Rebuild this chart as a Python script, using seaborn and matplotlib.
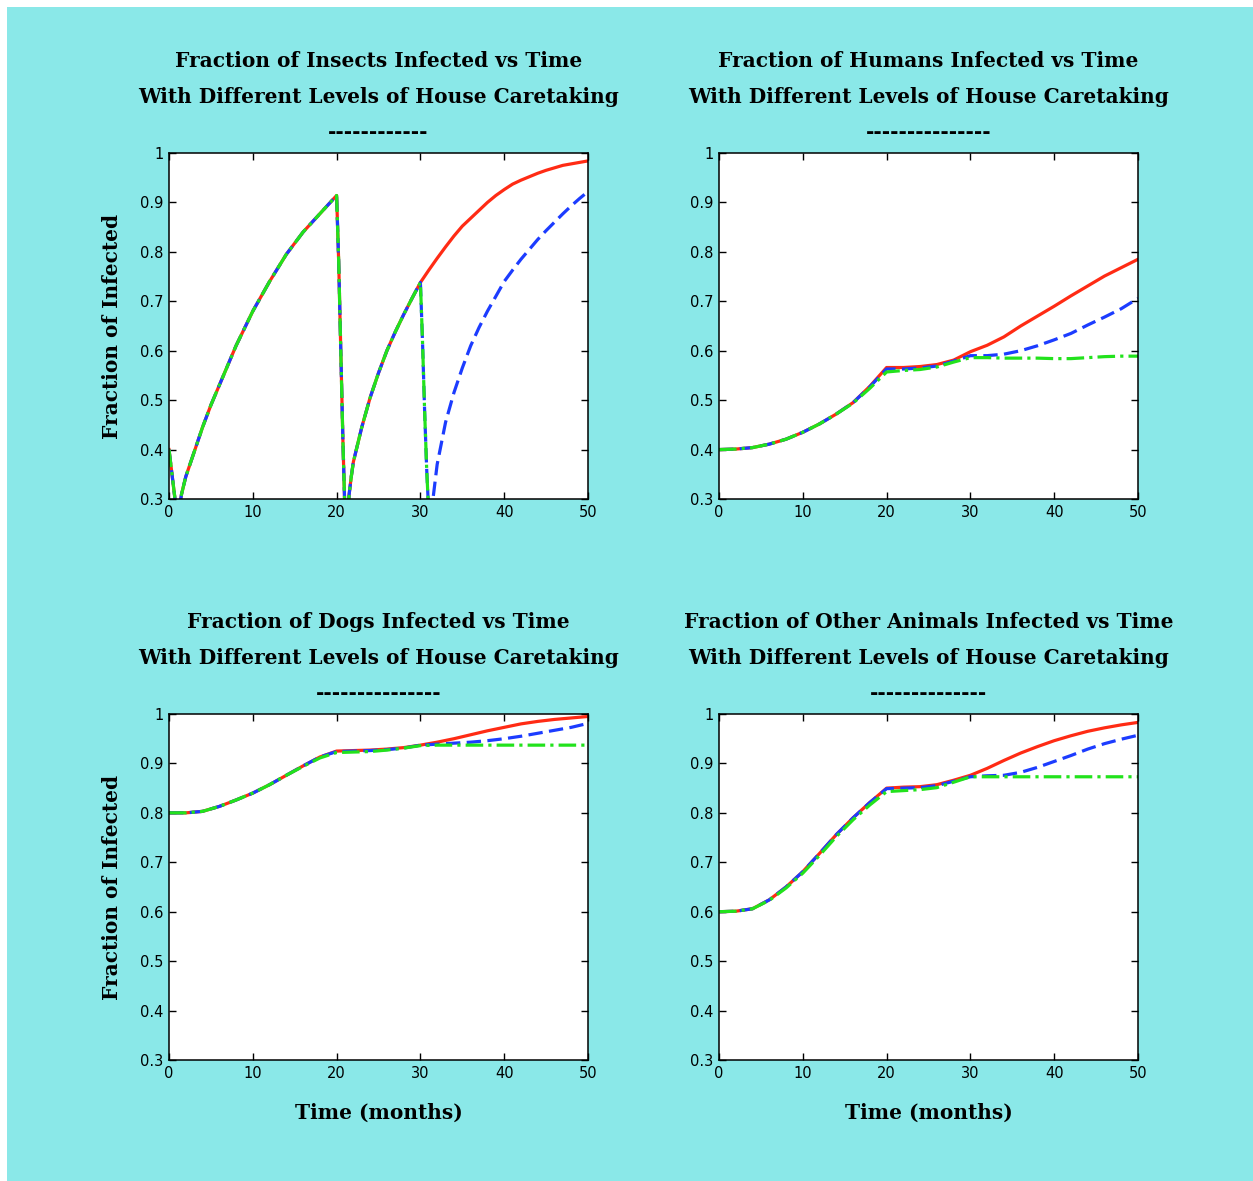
import matplotlib
matplotlib.use("Agg")
import matplotlib.pyplot as plt
from matplotlib.patches import Rectangle
import seaborn as sns

# ---- data (time in months, fraction infected) ----

# insects: all three levels share the curve up to month 30
insect_time_common = [0, 0.5, 1, 1.5, 2, 3, 4, 5, 6, 8, 10, 12, 14, 16, 18, 20,
                      20.25, 20.5, 20.75, 21, 21.25, 21.5, 21.75, 22, 23, 24, 25, 26, 27, 28, 29, 30]
insect_common = [0.40, 0.33, 0.26, 0.31, 0.345, 0.395, 0.445, 0.49, 0.53, 0.61, 0.68, 0.74,
                 0.795, 0.84, 0.877, 0.914, 0.78, 0.60, 0.42, 0.27, 0.25, 0.31, 0.345, 0.375,
                 0.445, 0.505, 0.555, 0.60, 0.638, 0.673, 0.706, 0.738]
insect_red_tail_time = [31, 32, 33, 34, 35, 36, 37, 38, 39, 40, 41, 42, 43, 44, 45, 46, 47, 48, 49, 50]
insect_red_tail = [0.763, 0.787, 0.81, 0.832, 0.852, 0.868, 0.884, 0.90, 0.914, 0.926,
                   0.937, 0.945, 0.952, 0.959, 0.965, 0.970, 0.975, 0.978, 0.981, 0.984]
insect_blue_tail_time = [30.25, 30.5, 30.75, 31, 31.25, 31.5, 32, 33, 34, 35, 36, 37, 38, 39,
                         40, 41, 42, 43, 44, 45, 46, 47, 48, 49, 50]
insect_blue_tail = [0.62, 0.48, 0.36, 0.27, 0.25, 0.30, 0.37, 0.455, 0.515, 0.565, 0.61, 0.647,
                    0.68, 0.71, 0.74, 0.763, 0.785, 0.805, 0.825, 0.843, 0.86, 0.877, 0.893,
                    0.908, 0.922]
insect_green_tail_time = [30.25, 30.5, 30.75, 31, 32, 40, 50]
insect_green_tail = [0.62, 0.48, 0.36, 0.27, 0.22, 0.15, 0.12]

# humans, dogs, other animals: sampled every 2 months
months = [0, 2, 4, 6, 8, 10, 12, 14, 16, 18, 20, 22, 24, 26, 28, 30, 32, 34, 36, 38, 40, 42, 44, 46, 48, 50]

human_red = [0.400, 0.401, 0.404, 0.411, 0.421, 0.435, 0.452, 0.472, 0.495, 0.528, 0.566, 0.566,
             0.568, 0.572, 0.581, 0.598, 0.611, 0.628, 0.650, 0.670, 0.690, 0.711, 0.731,
             0.751, 0.768, 0.785]
human_blue = [0.400, 0.401, 0.404, 0.411, 0.421, 0.435, 0.452, 0.472, 0.495, 0.527, 0.563, 0.563,
              0.565, 0.569, 0.579, 0.590, 0.590, 0.593, 0.600, 0.610, 0.622, 0.635, 0.652,
              0.668, 0.685, 0.706]
human_green = [0.400, 0.401, 0.404, 0.411, 0.421, 0.435, 0.452, 0.472, 0.494, 0.524, 0.557, 0.560,
               0.562, 0.567, 0.577, 0.586, 0.586, 0.585, 0.585, 0.585, 0.584, 0.584, 0.586,
               0.588, 0.589, 0.589]

dog_red = [0.800, 0.800, 0.803, 0.813, 0.826, 0.840, 0.857, 0.876, 0.895, 0.913, 0.925, 0.926,
           0.927, 0.929, 0.932, 0.937, 0.943, 0.950, 0.958, 0.966, 0.973, 0.980, 0.985,
           0.989, 0.992, 0.995]
dog_blue = [0.800, 0.800, 0.803, 0.813, 0.826, 0.840, 0.857, 0.876, 0.895, 0.913, 0.924, 0.925,
            0.926, 0.928, 0.931, 0.937, 0.939, 0.941, 0.943, 0.946, 0.950, 0.955, 0.961,
            0.967, 0.973, 0.981]
dog_green = [0.800, 0.800, 0.803, 0.813, 0.826, 0.840, 0.857, 0.876, 0.894, 0.911, 0.922, 0.923,
             0.924, 0.927, 0.931, 0.936, 0.937, 0.937, 0.937, 0.937, 0.937, 0.937, 0.937,
             0.937, 0.937, 0.937]

other_red = [0.600, 0.601, 0.606, 0.624, 0.650, 0.681, 0.718, 0.756, 0.790, 0.821, 0.850, 0.852,
             0.853, 0.857, 0.866, 0.876, 0.890, 0.906, 0.921, 0.934, 0.946, 0.956, 0.965,
             0.972, 0.978, 0.983]
other_blue = [0.600, 0.601, 0.606, 0.624, 0.650, 0.681, 0.718, 0.756, 0.790, 0.821, 0.849, 0.850,
              0.851, 0.855, 0.864, 0.873, 0.875, 0.876, 0.882, 0.892, 0.904, 0.916, 0.929,
              0.940, 0.949, 0.957]
other_green = [0.600, 0.601, 0.606, 0.623, 0.648, 0.678, 0.714, 0.752, 0.786, 0.816, 0.843, 0.845,
               0.847, 0.851, 0.862, 0.873, 0.873, 0.873, 0.873, 0.873, 0.873, 0.873, 0.873,
               0.873, 0.873, 0.873]

titles = ["Fraction of Insects Infected vs Time",
          "Fraction of Humans Infected vs Time",
          "Fraction of Dogs Infected vs Time",
          "Fraction of Other Animals Infected vs Time"]
subtitle = "With Different Levels of House Caretaking"
dash_lines = ["-" * 12, "-" * 15, "-" * 15, "-" * 14]
x_ticks = [0, 10, 20, 30, 40, 50]
y_ticks = [0.3, 0.4, 0.5, 0.6, 0.7, 0.8, 0.9, 1.0]
y_tick_labels = ["0.3", "0.4", "0.5", "0.6", "0.7", "0.8", "0.9", "1"]

# ---- styling ----
BG = "#8ae8e8"
RED = "#ff2b14"
BLUE = "#1c3cff"
GREEN = "#22e21c"
LW = 2.3
serif = ["DejaVu Serif"]
FS = 14.5

panels = [
    [(insect_time_common + insect_red_tail_time, insect_common + insect_red_tail),
     (insect_time_common + insect_blue_tail_time, insect_common + insect_blue_tail),
     (insect_time_common + insect_green_tail_time, insect_common + insect_green_tail)],
    [(months, human_red), (months, human_blue), (months, human_green)],
    [(months, dog_red), (months, dog_blue), (months, dog_green)],
    [(months, other_red), (months, other_blue), (months, other_green)],
]
styles = [(RED, "-"), (BLUE, (0, (4.5, 2.0))), (GREEN, (0, (5.5, 1.6, 1.0, 1.6)))]

W, H = 1253, 1181
fig = plt.figure(figsize=(W / 100, H / 100), dpi=100, facecolor="white")
fig.patches.append(Rectangle((7 / W, 0), 1 - 7 / W, 1 - 7 / H,
                             transform=fig.transFigure, facecolor=BG,
                             edgecolor="none", zorder=-10))

boxes = [(169, 153), (719, 153), (169, 714), (719, 714)]
aw, ah = 419, 346

for i, (x0, y0) in enumerate(boxes):
    ax = fig.add_axes([x0 / W, 1 - (y0 + ah) / H, aw / W, ah / H])
    ax.set_facecolor("white")
    for (t, v), (col, ls) in zip(panels[i], styles):
        sns.lineplot(x=t, y=v, ax=ax, color=col, linestyle=ls, linewidth=LW,
                     sort=False, estimator=None)
    ax.set_xlim(0, 50)
    ax.set_ylim(0.3, 1.0)
    ax.set_xticks(x_ticks)
    ax.set_xticklabels([str(x) for x in x_ticks])
    ax.set_yticks(y_ticks)
    ax.set_yticklabels(y_tick_labels)
    ax.tick_params(direction="in", top=True, right=True, length=5, width=1,
                   labelsize=10.5, pad=4)
    for s in ax.spines.values():
        s.set_linewidth(1.1)
        s.set_color("black")

    # three-line heading above each panel
    cx = (x0 + aw / 2) / W
    for txt, dy in zip([titles[i], subtitle, dash_lines[i]], [92, 56, 21]):
        fig.text(cx, 1 - (y0 - dy) / H, txt, ha="center", va="center",
                 fontsize=FS, fontweight="bold", family=serif)

    ax.set_xlabel("Time (months)" if i >= 2 else "", fontsize=FS,
                  fontweight="bold", family=serif, labelpad=16)
    ax.set_ylabel("Fraction of Infected" if i % 2 == 0 else "", fontsize=FS,
                  fontweight="bold", family=serif, labelpad=13)

fig.savefig("out.png", dpi=100, facecolor=fig.get_facecolor())
